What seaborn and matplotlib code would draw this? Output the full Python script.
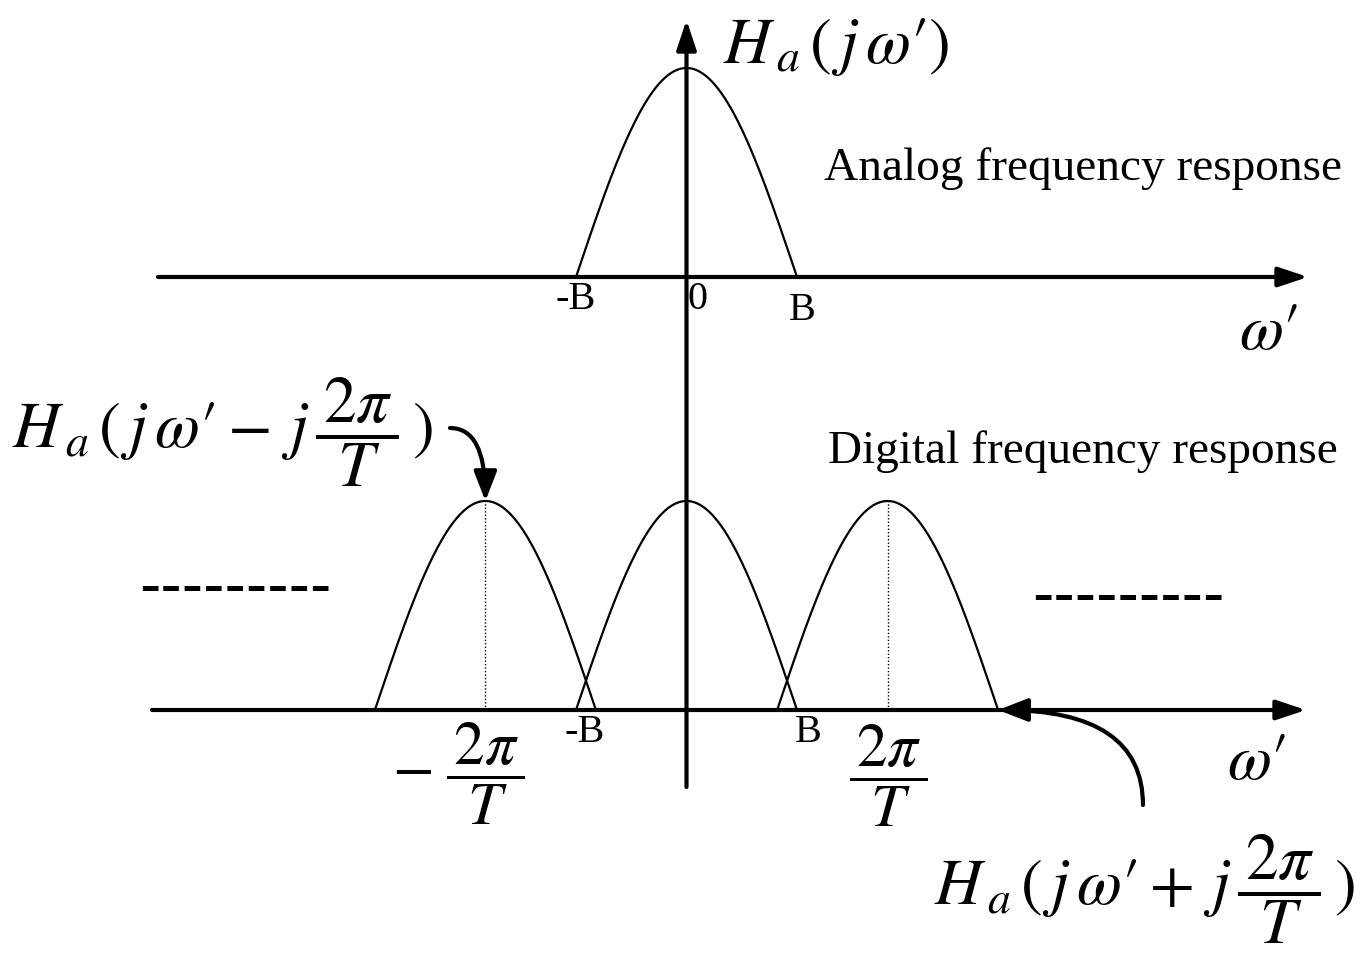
import numpy as np
import pandas as pd
import seaborn as sns
import matplotlib.pyplot as plt

sns.set_theme(style="white")
plt.rcParams["mathtext.fontset"] = "stix"
plt.rcParams["font.family"] = ["Liberation Serif", "DejaVu Serif"]
plt.rcParams["text.color"] = "black"

# spectrum parameters (frequency in units of the band edge B)
B = 1.0                 # band edge of the analog spectrum
omega_s = 1.82          # sampling frequency 2*pi/T
peak = 1.0              # height of each spectral lobe
copies = [-1, 0, 1]     # shifted replicas drawn in the digital spectrum
band_labels = ["-B", "B"]

# figure geometry: pixels per frequency unit / per amplitude unit
W, H = 1357, 967
X0, SX = 686.5, 110.5
Y0, SY = 710.0, 209.0
analog_level = (Y0 - 277.0) / SY     # baseline of the analog plot


def px(x, y):
    """figure pixel -> data coordinates"""
    return (x - X0) / SX, (Y0 - y) / SY


def lobe(center):
    w = np.linspace(-B, B, 201)
    return pd.DataFrame({"omega": center + w,
                         "H": peak * np.cos(np.pi * w / (2 * B))})


fig = plt.figure(figsize=(W / 100, H / 100), dpi=100)
ax = fig.add_axes([0, 0, 1, 1])
ax.set_xlim(px(0, 0)[0], px(W, 0)[0])
ax.set_ylim(px(0, H)[1], px(0, 0)[1])
ax.axis("off")

# analog spectrum
top = lobe(0.0)
top["H"] += analog_level
sns.lineplot(data=top, x="omega", y="H", color="black", lw=1.6, ax=ax,
             sort=False, estimator=None)

# digital spectrum: periodic replicas
dig = pd.concat([lobe(k * omega_s).assign(k=k) for k in copies])
sns.lineplot(data=dig, x="omega", y="H", units="k", estimator=None,
             color="black", lw=1.6, ax=ax, sort=False)
for k in copies:
    if k != 0:
        ax.plot([k * omega_s, k * omega_s], [0, peak], color="black",
                lw=1.0, ls=(0, (1, 1.5)))

# axes with arrowheads
axis_kw = dict(arrowstyle="-|>,head_length=0.9,head_width=0.3",
               color="black", lw=3.0, shrinkA=0, shrinkB=0,
               mutation_scale=20)
ax.annotate("", xy=(px(1308, 0)[0], analog_level),
            xytext=(px(158, 0)[0], analog_level), arrowprops=axis_kw)
ax.annotate("", xy=(px(1306, 0)[0], 0), xytext=(px(152, 0)[0], 0),
            arrowprops=axis_kw)
ax.annotate("", xy=(0, px(0, 20)[1]), xytext=(0, px(0, 787)[1]),
            arrowprops=axis_kw)

# band edge labels
lab_kw = dict(fontsize=29, color="black", ha="center", va="top")
ax.text(-B, analog_level - 0.02, band_labels[0], **lab_kw)
ax.text(0.1, analog_level - 0.02, "0", **lab_kw)
ax.text(B + 0.05, analog_level - 0.07, band_labels[1], **lab_kw)
ax.text(-B + 0.08, -0.02, band_labels[0], **lab_kw)
ax.text(B + 0.1, -0.02, band_labels[1], **lab_kw)

# multiples of the sampling frequency
ax.text(-omega_s - 0.25, px(0, 774)[1], r"$-\;\dfrac{\,2\pi\,}{T}$",
        fontsize=44, ha="center", va="center")
ax.text(omega_s, px(0, 776)[1], r"$\dfrac{\,2\pi\,}{T}$", fontsize=44,
        ha="center", va="center")

# axis names
ax.text(*px(1269, 349), r"$\omega\prime$", fontsize=46, ha="center",
        va="baseline")
ax.text(*px(1257, 779), r"$\omega\prime$", fontsize=46, ha="center",
        va="baseline")
ax.text(*px(723, 63), r"$H_{\,a}\,(\,j\,\omega\prime)$", fontsize=47,
        ha="left", va="baseline")

# section captions
ax.text(*px(824, 180), "Analog frequency response", fontsize=34,
        ha="left", va="baseline")
ax.text(*px(828, 463), "Digital frequency response", fontsize=34,
        ha="left", va="baseline")

# ellipsis marks for further replicas
dash_kw = dict(fontsize=46, family="Liberation Sans", ha="center",
               va="center")
ax.text(*px(235, 589), "---------", **dash_kw)
ax.text(*px(1128, 598), "---------", **dash_kw)

# replica labels with pointing arrows
arrow_kw = dict(arrowstyle="-|>,head_length=0.9,head_width=0.35",
                color="black", lw=3.0, shrinkA=0, shrinkB=0,
                mutation_scale=20)
ax.text(*px(12, 448),
        r"$H_{\,a}\,(\,j\,\omega\prime-\,j\,\dfrac{\,2\pi\,}{T}\,)$",
        fontsize=47, ha="left", va="baseline")
ax.annotate("", xy=(-omega_s, peak), xytext=px(450, 428),
            arrowprops=dict(connectionstyle="angle3,angleA=0,angleB=90",
                            **arrow_kw))
ax.text(*px(1355, 905),
        r"$H_{\,a}\,(\,j\,\omega\prime+\,j\,\dfrac{\,2\pi\,}{T}\,)$",
        fontsize=47, ha="right", va="baseline")
ax.annotate("", xy=(omega_s + B, 0), xytext=px(1143, 805),
            arrowprops=dict(connectionstyle="angle3,angleA=90,angleB=0",
                            **arrow_kw))

fig.savefig("out.png", dpi=100)
